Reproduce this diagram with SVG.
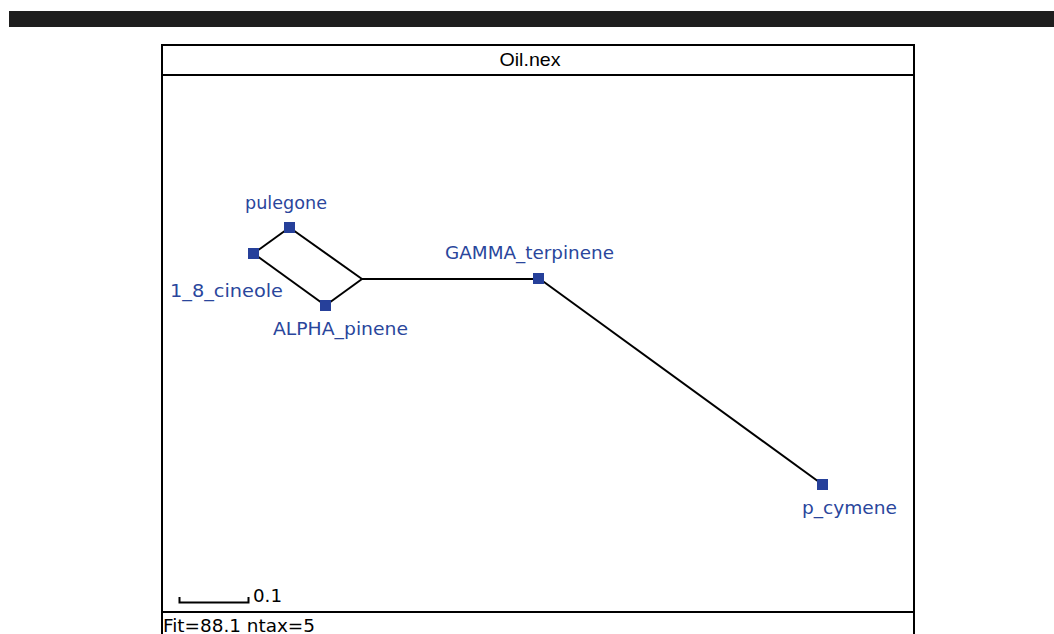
<svg xmlns="http://www.w3.org/2000/svg" width="1054" height="634" viewBox="0 0 1054 634">
<style>
.lbl{font-family:"DejaVu Sans",sans-serif;font-size:18px;fill:#2a469c}
.sq{fill:#26409a}
.edge{stroke:#000;stroke-width:2;fill:none}
.frame{stroke:#000;stroke-width:2;fill:none}
.blk{font-family:"DejaVu Sans",sans-serif;font-size:18px;fill:#000}
</style>
<rect x="0" y="0" width="1054" height="634" fill="#fff"/>
<rect x="9" y="11" width="1045" height="16" fill="#1e1e1e"/>
<g id="frame">
<rect class="frame" x="162" y="45" width="752" height="600"/>
<line class="frame" x1="162" y1="75" x2="914" y2="75"/>
<line class="frame" x1="162" y1="612" x2="914" y2="612"/>
<text x="530" y="66" text-anchor="middle" font-family="Liberation Sans Narrow, Liberation Sans, sans-serif" font-size="19" textLength="61" lengthAdjust="spacingAndGlyphs">Oil.nex</text>
<text class="blk" x="163" y="632" textLength="152" lengthAdjust="spacingAndGlyphs">Fit=88.1 ntax=5</text>
</g>
<g id="scale">
<path class="edge" d="M179.5,597 V602.5 H248.5 V597"/>
<text class="blk" x="253" y="602" textLength="29" lengthAdjust="spacingAndGlyphs">0.1</text>
</g>
<g id="connectors">
<line class="edge" x1="253.5" y1="253.5" x2="289.5" y2="227.5"/>
<line class="edge" x1="253.5" y1="253.5" x2="325.5" y2="305.5"/>
<line class="edge" x1="289.5" y1="227.5" x2="362" y2="279"/>
<line class="edge" x1="325.5" y1="305.5" x2="362" y2="279"/>
<line class="edge" x1="362" y1="279" x2="538.5" y2="279"/>
<line class="edge" x1="538.5" y1="278" x2="822.5" y2="484.5"/>
</g>
<g id="pulegone">
<rect class="sq" x="284" y="222" width="11" height="11"/>
<text class="lbl" x="245" y="209" textLength="82" lengthAdjust="spacingAndGlyphs">pulegone</text>
</g>
<g id="cineole">
<rect class="sq" x="248" y="248" width="11" height="11"/>
<text class="lbl" x="170" y="297" textLength="113" lengthAdjust="spacingAndGlyphs">1_8_cineole</text>
</g>
<g id="alpha_pinene">
<rect class="sq" x="320" y="300" width="11" height="11"/>
<text class="lbl" x="273" y="335" textLength="135" lengthAdjust="spacingAndGlyphs">ALPHA_pinene</text>
</g>
<g id="gamma_terpinene">
<rect class="sq" x="533" y="273" width="11" height="11"/>
<text class="lbl" x="445" y="259" textLength="169" lengthAdjust="spacingAndGlyphs">GAMMA_terpinene</text>
</g>
<g id="p_cymene">
<rect class="sq" x="817" y="479" width="11" height="11"/>
<text class="lbl" x="802" y="514" textLength="95" lengthAdjust="spacingAndGlyphs">p_cymene</text>
</g>
</svg>
